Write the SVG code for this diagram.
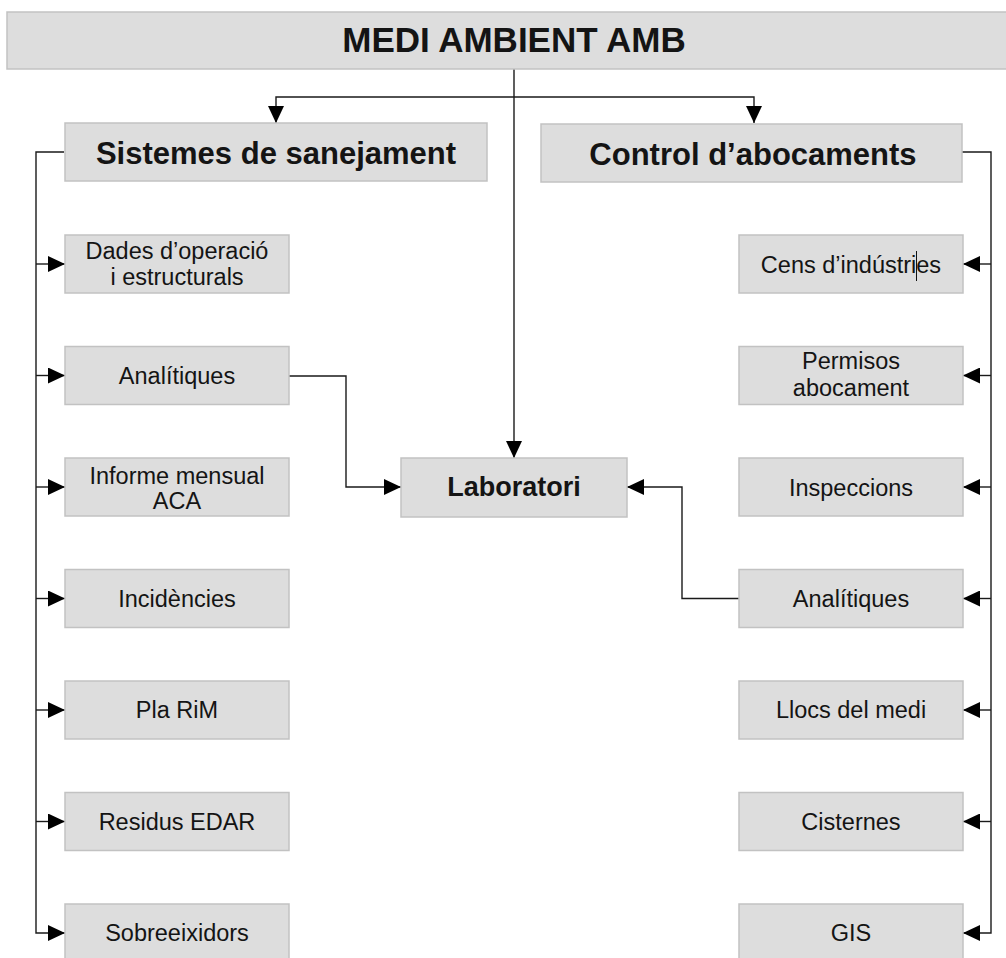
<svg xmlns="http://www.w3.org/2000/svg" width="1006" height="958" viewBox="0 0 1006 958">
<style>
.box{fill:#dddddd;stroke:#c2c2c2;stroke-width:1.5}
.t{font-family:"Liberation Sans",Arial,sans-serif;fill:#141414;text-anchor:middle}
.c{font-size:23.5px}
.b{font-weight:bold}
.ln{fill:none;stroke:#1a1a1a;stroke-width:1.4}
</style>
<defs>
<marker id="arr" viewBox="0 0 17 16" refX="17" refY="8" markerWidth="17" markerHeight="16" orient="auto" markerUnits="userSpaceOnUse">
<path d="M0,0 L17,8 L0,16 z" fill="#000"/>
</marker>
</defs>
<rect width="1006" height="958" fill="#fff"/>
<g id="connectors">
<path class="ln" d="M514,69 V458" marker-end="url(#arr)"/>
<path class="ln" d="M514,97 H276 V123" marker-end="url(#arr)"/>
<path class="ln" d="M514,97 H754 V123" marker-end="url(#arr)"/>
<path class="ln" d="M64,152 H36 V933 H65" marker-end="url(#arr)"/>
<path class="ln" d="M36,264 H65" marker-end="url(#arr)"/>
<path class="ln" d="M36,375.5 H65" marker-end="url(#arr)"/>
<path class="ln" d="M36,487 H65" marker-end="url(#arr)"/>
<path class="ln" d="M36,598.5 H65" marker-end="url(#arr)"/>
<path class="ln" d="M36,710 H65" marker-end="url(#arr)"/>
<path class="ln" d="M36,821.5 H65" marker-end="url(#arr)"/>
<path class="ln" d="M962,152 H991 V933 H963" marker-end="url(#arr)"/>
<path class="ln" d="M991,264 H963" marker-end="url(#arr)"/>
<path class="ln" d="M991,375.5 H963" marker-end="url(#arr)"/>
<path class="ln" d="M991,487 H963" marker-end="url(#arr)"/>
<path class="ln" d="M991,598.5 H963" marker-end="url(#arr)"/>
<path class="ln" d="M991,710 H963" marker-end="url(#arr)"/>
<path class="ln" d="M991,821.5 H963" marker-end="url(#arr)"/>
<path class="ln" d="M289,376 H346 V487 H401" marker-end="url(#arr)"/>
<path class="ln" d="M739,598.5 H682 V487 H627" marker-end="url(#arr)"/>
</g>
<g id="n-title"><rect class="box" x="7" y="12" width="1010" height="57"/><text class="t b" x="514" y="52" font-size="35">MEDI AMBIENT AMB</text></g>
<g id="n-sistemes"><rect class="box" x="65" y="123" width="422" height="58"/><text class="t b" x="276" y="164" font-size="31">Sistemes de sanejament</text></g>
<g id="n-control"><rect class="box" x="541" y="124" width="421" height="58"/><text class="t b" x="753" y="165" font-size="31">Control d’abocaments</text></g>
<g id="n-lab"><rect class="box" x="401" y="458" width="226" height="59"/><text class="t b" x="514" y="496" font-size="27">Laboratori</text></g>

<g id="n-dades"><rect class="box" x="65" y="235" width="224" height="58"/><text class="t c" x="177" y="259">Dades d’operació</text><text class="t c" x="177" y="285">i estructurals</text></g>
<g id="n-analitiques-l"><rect class="box" x="65" y="346.5" width="224" height="58"/><text class="t c" x="177" y="384">Analítiques</text></g>
<g id="n-informe"><rect class="box" x="65" y="458" width="224" height="58"/><text class="t c" x="177" y="484">Informe mensual</text><text class="t c" x="177" y="509">ACA</text></g>
<g id="n-incidencies"><rect class="box" x="65" y="569.5" width="224" height="58"/><text class="t c" x="177" y="607">Incidències</text></g>
<g id="n-pla"><rect class="box" x="65" y="681" width="224" height="58"/><text class="t c" x="177" y="718">Pla RiM</text></g>
<g id="n-residus"><rect class="box" x="65" y="792.5" width="224" height="58"/><text class="t c" x="177" y="830">Residus EDAR</text></g>
<g id="n-sobre"><rect class="box" x="65" y="904" width="224" height="58"/><text class="t c" x="177" y="941">Sobreeixidors</text></g>

<g id="n-cens"><rect class="box" x="739" y="235" width="224" height="58"/><text class="t c" x="851" y="272.5">Cens d’indústries</text><line x1="916.5" y1="251" x2="916.5" y2="281" stroke="#111" stroke-width="1"/></g>
<g id="n-permisos"><rect class="box" x="739" y="346.5" width="224" height="58"/><text class="t c" x="851" y="369">Permisos</text><text class="t c" x="851" y="396">abocament</text></g>
<g id="n-inspeccions"><rect class="box" x="739" y="458" width="224" height="58"/><text class="t c" x="851" y="496">Inspeccions</text></g>
<g id="n-analitiques-r"><rect class="box" x="739" y="569.5" width="224" height="58"/><text class="t c" x="851" y="607">Analítiques</text></g>
<g id="n-llocs"><rect class="box" x="739" y="681" width="224" height="58"/><text class="t c" x="851" y="718">Llocs del medi</text></g>
<g id="n-cisternes"><rect class="box" x="739" y="792.5" width="224" height="58"/><text class="t c" x="851" y="830">Cisternes</text></g>
<g id="n-gis"><rect class="box" x="739" y="904" width="224" height="58"/><text class="t c" x="851" y="941">GIS</text></g>
</svg>
